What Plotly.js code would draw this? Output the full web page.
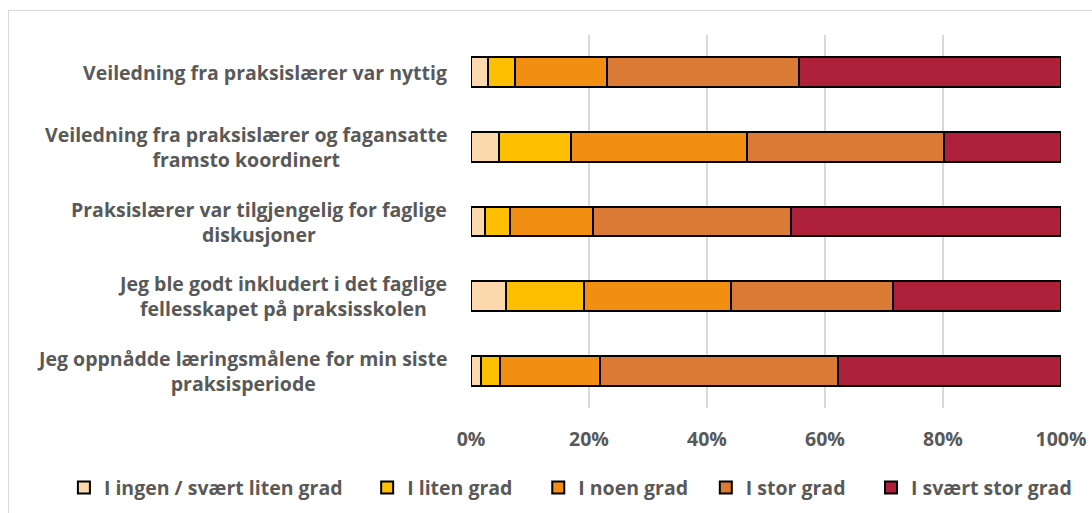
<!DOCTYPE html>
<html>
<head>
<meta charset="utf-8">
<script src="https://cdn.plot.ly/plotly-3.0.1.min.js"></script>
<style>
  body { margin: 0; background: #fff; }
  #frame { position: absolute; left: 8px; top: 10px; width: 1200px; height: 600px; border: 1.5px solid #d9d9d9; }
  #chart { position: absolute; left: 0; top: 0; width: 1092px; height: 513px; }
</style>
</head>
<body>
<div id="frame"></div>
<div id="chart"></div>
<script>
// statements, top to bottom
const categories = [
    'Veiledning fra praksislærer var nyttig',
    'Veiledning fra praksislærer og fagansatte<br>framsto koordinert',
    'Praksislærer var tilgjengelig for faglige<br>diskusjoner',
    'Jeg ble godt inkludert i det faglige<br>fellesskapet på praksisskolen',
    'Jeg oppnådde læringsmålene for min siste<br>praksisperiode'
];

const seriesNames = ['I ingen / svært liten grad', 'I liten grad', 'I noen grad', 'I stor grad', 'I svært stor grad'];

// shares (fraction of respondents), one array per answer option
const ingen     = [0.028, 0.048, 0.024, 0.059, 0.017];
const liten     = [0.047, 0.121, 0.042, 0.133, 0.032];
const noen      = [0.156, 0.298, 0.141, 0.248, 0.170];
const stor      = [0.325, 0.334, 0.335, 0.275, 0.403];
const svaertStor = [0.444, 0.199, 0.458, 0.285, 0.378];

const seriesValues = [ingen, liten, noen, stor, svaertStor];
const seriesColors = ['#fbd9ad', '#fdbf00', '#f28e12', '#db7a35', '#ae2039'];

// one legend box per series so the entries sit where the original has them
const legendX = [-0.69, -0.176, 0.114, 0.398, 0.678];

const textGray = '#595959';
const fontFam = "'Open Sans', Lato, sans-serif";
const fontSize = 19.5;
const boldFont = { family: fontFam, size: fontSize, color: textGray, weight: 'bold' };

const keys = categories.map((c, i) => 'c' + i);

const data = seriesValues.map((vals, i) => ({
    type: 'bar',
    orientation: 'h',
    name: seriesNames[i],
    legend: i === 0 ? 'legend' : 'legend' + (i + 1),
    x: vals,
    y: keys,
    marker: { color: seriesColors[i], line: { color: '#000', width: 2 } },
    hoverinfo: 'x+name'
}));

const annotations = categories.map((c, i) => ({
    xref: 'paper', yref: 'y',
    x: 0, y: keys[i],
    xshift: -22,
    xanchor: 'right', yanchor: 'middle',
    align: 'center',
    text: c,
    showarrow: false,
    font: boldFont
}));

const layout = {
    barmode: 'stack',
    bargap: 0.6,
    width: 1092,
    height: 513,
    margin: { l: 471, r: 31, t: 35, b: 105, autoexpand: false },
    paper_bgcolor: 'rgba(0,0,0,0)',
    plot_bgcolor: 'rgba(0,0,0,0)',
    font: { family: fontFam, color: textGray },
    xaxis: {
        range: [0, 1],
        tickvals: [0, 0.2, 0.4, 0.6, 0.8, 1],
        tickformat: '.0%',
        showgrid: true,
        gridcolor: '#d9d9d9',
        gridwidth: 1.5,
        zeroline: false,
        showline: false,
        ticks: '',
        ticklabelstandoff: 17,
        automargin: false,
        tickfont: boldFont,
        fixedrange: true
    },
    yaxis: {
        type: 'category',
        categoryorder: 'array',
        categoryarray: keys,
        autorange: 'reversed',
        showticklabels: false,
        showgrid: false,
        zeroline: false,
        automargin: false,
        fixedrange: true
    },
    annotations: annotations,
    showlegend: true
};

legendX.forEach((lx, i) => {
    layout[i === 0 ? 'legend' : 'legend' + (i + 1)] = {
        orientation: 'h',
        x: lx, xanchor: 'left',
        yref: 'container',
        y: 0.049, yanchor: 'middle',
        font: boldFont,
        itemwidth: 30,
        bgcolor: 'rgba(0,0,0,0)'
    };
});

Plotly.newPlot('chart', data, layout, { displayModeBar: false, staticPlot: true });
</script>
</body>
</html>
